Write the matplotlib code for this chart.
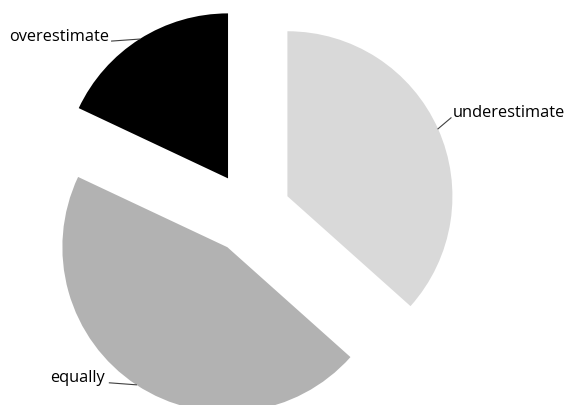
import matplotlib.pyplot as plt
import numpy as np

labels = ['underestimate', 'equally', 'overestimate']
shares = [36.6, 45.4, 18.0]
colors = ['#d9d9d9', '#b2b2b2', '#000000']

# label placement relative to the middle of each arc (pixels): line end, text anchor
label_offsets = {
    'underestimate': ((13, 11), (15, 16), 'left'),
    'equally': ((-27, 2), (-31, 7), 'right'),
    'overestimate': ((-28, -2), (-30, 2), 'right'),
}

fig = plt.figure(figsize=(5.66, 4.05), dpi=100)
ax = fig.add_axes([0, 0, 1, 1])

# explode is given in data units here (1 unit = 1 pixel)
wedges, _ = ax.pie(shares, colors=colors, startangle=90, counterclock=False,
                   radius=165, center=(250, 192), explode=[41] * 3,
                   wedgeprops=dict(linewidth=0))

ax.set_xlim(0, 566)
ax.set_ylim(0, 405)
ax.set_aspect('equal')
ax.axis('off')

for w, name in zip(wedges, labels):
    mid = np.deg2rad((w.theta1 + w.theta2) / 2)
    cx, cy = w.center
    ax_x = cx + w.r * np.cos(mid)
    ax_y = cy + w.r * np.sin(mid)
    (lx, ly), (tx, ty), ha = label_offsets[name]
    ax.plot([ax_x, ax_x + lx], [ax_y, ax_y + ly], color='#404040', lw=0.8,
            clip_on=False)
    ax.text(ax_x + tx, ax_y + ty, name, ha=ha, va='center',
            fontsize=11.8, family='Open Sans', color='black')

plt.savefig('out.png', dpi=100)
plt.close()
